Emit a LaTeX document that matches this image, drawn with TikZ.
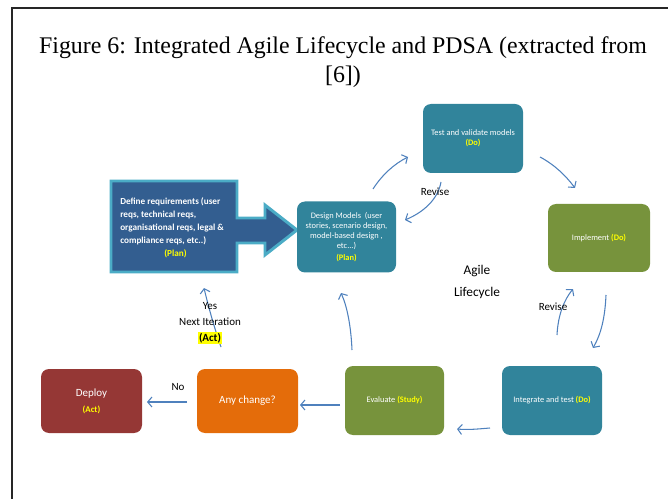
\documentclass[tikz,border=0pt]{standalone}
\usepackage{fontspec}
\setmainfont{Liberation Serif}
\newfontfamily\calfont{Carlito}
\usetikzlibrary{arrows.meta}
\definecolor{tealbox}{HTML}{31849B}
\definecolor{olivebox}{HTML}{77933C}
\definecolor{orangebox}{HTML}{E46C0A}
\definecolor{redbox}{HTML}{953735}
\definecolor{reqblue}{HTML}{335E90}
\definecolor{reqborder}{HTML}{4BACC6}
\definecolor{arrowblue}{HTML}{4F81BD}
\definecolor{ylw}{HTML}{FFFF00}
\tikzset{
  box/.style={rounded corners=6pt, text=white, align=center, inner sep=1pt,
    font=\calfont\fontsize{6.3}{7.5}\selectfont},
  arr/.style={draw=arrowblue, line width=0.8pt, -{Straight Barb[length=3.2pt,width=7.5pt]}},
  lbl/.style={font=\calfont\fontsize{8.25}{12}\selectfont, text=black, inner sep=0pt},
}
\begin{document}
\begin{tikzpicture}[x=0.75pt,y=-0.75pt]
\useasboundingbox (0,0) rectangle (668,499);
% frame
\draw[line width=0.8pt, black!85] (12,499) -- (12,8) -- (668,8);
% title
\node[align=center, font=\fontsize{17.9}{21.5}\selectfont, inner sep=0pt] (title) at (343,62)
  {Figure 6: Integrated Agile Lifecycle and PDSA (extracted from\\{}[6])};

% requirements callout
\draw[fill=reqblue, draw=reqborder, line width=2.2pt, line join=miter]
  (111,181) -- (237,181) -- (237,218) -- (265,218) -- (265,205) -- (297,230)
  -- (265,255) -- (265,243) -- (237,243) -- (237,272) -- (111,272) -- cycle;
\node[anchor=north west, align=left, text=white, inner sep=0pt,
  font=\calfont\bfseries\fontsize{6.9}{9.8}\selectfont] (req) at (120,197)
  {Define requirements (user\\reqs, technical reqs,\\organisational reqs, legal \&\\compliance reqs, etc..)\\\hspace*{33pt}\textcolor{ylw}{(Plan)}};

% boxes
\node[box, fill=tealbox, minimum width=74.25pt, minimum height=53.25pt] (design) at (346.5,237)
  {Design Models\ \ (user\\stories, scenario design,\\model-based design ,\\etc...)\\[1.5pt]\textcolor{ylw}{\bfseries(Plan)}};
\node[box, fill=tealbox, minimum width=75pt, minimum height=51.75pt] (test) at (473,138.5)
  {Test and validate models\\\textcolor{ylw}{\bfseries(Do)}};
\node[box, fill=olivebox, minimum width=76.5pt, minimum height=51pt] (impl) at (599,238)
  {Implement \textcolor{ylw}{\bfseries(Do)}};
\node[box, fill=tealbox, minimum width=75pt, minimum height=51.75pt] (integ) at (552,400.5)
  {Integrate and test \textcolor{ylw}{\bfseries(Do)}};
\node[box, fill=olivebox, minimum width=74.25pt, minimum height=51.75pt] (eval) at (394.5,400.5)
  {Evaluate \textcolor{ylw}{\bfseries(Study)}};
\node[box, fill=orangebox, minimum width=75.75pt, minimum height=48pt,
  font=\calfont\fontsize{8.25}{10}\selectfont] (any) at (247.5,401)
  {Any change?};
\node[box, fill=redbox, minimum width=75.75pt, minimum height=48pt,
  font=\calfont\fontsize{8.25}{12}\selectfont] (deploy) at (91.5,401)
  {Deploy\\{\fontsize{6.6}{12}\selectfont\bfseries\textcolor{ylw}{(Act)}}};

% arrow end points
\coordinate (a1s) at (373,189); \coordinate (a1e) at (408,157);
\coordinate (a2s) at (441,182); \coordinate (a2e) at (405,220);
\coordinate (a3s) at (540,157); \coordinate (a3e) at (575,188);
\coordinate (a4s) at (606,295); \coordinate (a4e) at (593,348);
\coordinate (a5s) at (557,335); \coordinate (a5e) at (573,289);
\coordinate (a6s) at (490,428); \coordinate (a6e) at (457,429);
\coordinate (a7s) at (340,405); \coordinate (a7e) at (300,405);
\coordinate (a8s) at (187,402); \coordinate (a8e) at (147,402);
\coordinate (a9s) at (352,350); \coordinate (a9e) at (341,293);
\coordinate (a10s) at (221,347); \coordinate (a10e) at (204,288);

\draw[arr] (a1s) .. controls (382,175) and (394,164) .. (a1e);
\draw[arr] (a2s) .. controls (438,199) and (424,212) .. (a2e);
\draw[arr] (a3s) .. controls (555,165) and (566,176) .. (a3e);
\draw[arr] (a4s) .. controls (605,318) and (601,334) .. (a4e);
\draw[arr] (a5s) .. controls (558,315) and (564,300) .. (a5e);
\draw[arr] (a6s) .. controls (478,429) and (468,430) .. (a6e);
\draw[arr] (a7s) -- (a7e);
\draw[arr] (a8s) -- (a8e);
\draw[arr] (a9s) .. controls (351,326) and (347,306) .. (a9e);
\draw[arr] (a10s) .. controls (214,327) and (208,305) .. (a10e);

% labels
\node[lbl] (rev1) at (435,192) {Revise};
\node[lbl] (rev2) at (553,307) {Revise};
\node[lbl, align=center, font=\calfont\fontsize{10}{16.5}\selectfont] (agile) at (477,282) {Agile\\Lifecycle};
\node[lbl] (no) at (178,387) {No};
\node[lbl, align=center] (yes) at (210,314) {Yes\\Next Iteration};
\node[lbl, fill=ylw, inner sep=0.6pt, font=\calfont\bfseries\fontsize{8.25}{10}\selectfont] (act) at (210,338) {(Act)};
\end{tikzpicture}
\end{document}
